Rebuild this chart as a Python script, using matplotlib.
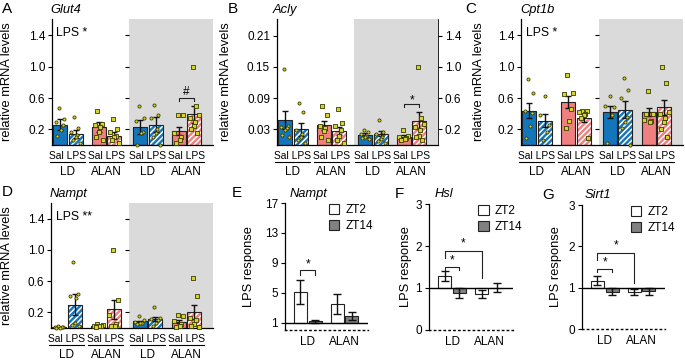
import matplotlib.pyplot as plt
import numpy as np
from matplotlib.patches import Patch
from matplotlib.transforms import blended_transform_factory

plt.rcParams['font.family'] = ['Liberation Sans', 'DejaVu Sans']
plt.rcParams['hatch.linewidth'] = 1.1
plt.rcParams['axes.linewidth'] = 0.9

# bar order in panels A-D: LD Sal, LD LPS, ALAN Sal, ALAN LPS (white half), same again in grey half
treat = ['Sal', 'LPS'] * 4
light = ['LD', 'LD', 'ALAN', 'ALAN'] * 2
groups = ['LD', 'ALAN', 'LD', 'ALAN']

glut4_mean = [0.26, 0.14, 0.23, 0.12, 0.23, 0.26, 0.18, 0.39]
glut4_sem = [0.07, 0.05, 0.07, 0.04, 0.09, 0.10, 0.05, 0.11]
glut4_pts = [[0.47, 0.33, 0.29, 0.26, 0.19, 0.11],
             [0.36, 0.22, 0.17, 0.13, 0.10, 0.06, 0.02],
             [0.44, 0.27, 0.26, 0.23, 0.17, 0.10, 0.07],
             [0.33, 0.21, 0.16, 0.12, 0.10, 0.06, 0.03],
             [0.50, 0.34, 0.31, 0.17, 0.15, 0.00],
             [0.51, 0.38, 0.34, 0.20, 0.15, 0.10, 0.00],
             [0.38, 0.38, 0.15, 0.10, 0.06, 0.03],
             [1.00, 0.50, 0.38, 0.34, 0.30, 0.24, 0.20, 0.15]]

acly_mean = [0.048, 0.030, 0.038, 0.0275, 0.019, 0.022, 0.016, 0.047]
acly_sem = [0.017, 0.012, 0.009, 0.008, 0.004, 0.005, 0.003, 0.016]
acly_pts = [[0.146, 0.037, 0.035, 0.032, 0.029, 0.019, 0.016],
            [0.081, 0.064, 0.028, 0.022, 0.015, 0.009, 0.003],
            [0.074, 0.058, 0.036, 0.032, 0.027, 0.016, 0.010],
            [0.069, 0.042, 0.036, 0.028, 0.018, 0.009, 0.003],
            [0.028, 0.025, 0.022, 0.018, 0.016, 0.013, 0.012],
            [0.048, 0.025, 0.022, 0.016, 0.012, 0.008, 0.004],
            [0.029, 0.018, 0.016, 0.014, 0.012, 0.010],
            [0.150, 0.052, 0.040, 0.035, 0.028, 0.018, 0.016, 0.010]]

cpt1b_mean = [0.44, 0.31, 0.55, 0.35, 0.42, 0.45, 0.42, 0.48]
cpt1b_sem = [0.10, 0.08, 0.075, 0.05, 0.08, 0.11, 0.05, 0.10]
cpt1b_pts = [[0.84, 0.66, 0.44, 0.41, 0.24, 0.085],
             [0.63, 0.38, 0.26, 0.17, 0.06],
             [0.89, 0.67, 0.65, 0.46, 0.31, 0.22],
             [0.44, 0.43, 0.42, 0.40, 0.38, 0.34, 0.09],
             [0.62, 0.50, 0.49, 0.38, 0.03],
             [0.86, 0.70, 0.60, 0.36, 0.29, 0.22, 0.00],
             [0.69, 0.40, 0.32, 0.31, 0.30, 0.40],
             [1.00, 0.79, 0.42, 0.40, 0.34, 0.30, 0.21, 0.10]]

nampt_mean = [0.01, 0.30, 0.03, 0.24, 0.085, 0.115, 0.08, 0.205]
nampt_sem = [0.003, 0.13, 0.008, 0.12, 0.01, 0.025, 0.02, 0.085]
nampt_pts = [[0.02, 0.015, 0.01, 0.008, 0.005, 0.003],
             [0.85, 0.43, 0.41, 0.38, 0.06, 0.04, 0.02],
             [0.05, 0.04, 0.03, 0.03, 0.02, 0.01],
             [1.00, 0.36, 0.17, 0.05, 0.03, 0.02],
             [0.16, 0.10, 0.08, 0.07, 0.06, 0.05],
             [0.27, 0.13, 0.12, 0.10, 0.06, 0.03],
             [0.17, 0.15, 0.09, 0.05, 0.03, 0.01],
             [0.64, 0.41, 0.13, 0.10, 0.05, 0.03, 0.01]]

# panels E-G: LPS response, groups LD / ALAN
resp_groups = ['LD', 'ALAN']
nampt_zt2 = [5.1, 3.5]
nampt_zt2_err = [1.65, 1.3]
nampt_zt14 = [1.2, 1.85]
nampt_zt14_err = [0.2, 0.55]
hsl_zt2 = [1.28, 0.86]
hsl_zt2_err = [0.12, 0.09]
hsl_zt14 = [0.88, 1.01]
hsl_zt14_err = [0.12, 0.11]
sirt1_zt2 = [1.17, 0.90]
sirt1_zt2_err = [0.11, 0.07]
sirt1_zt14 = [0.90, 0.91]
sirt1_zt14_err = [0.08, 0.09]

BLUE = '#1375bb'
PINK = '#f07f7f'
BG = '#dadada'
DOT_FC = '#d4d42c'
DOT_EC = '#3a3a00'
ZT14_COL = '#808080'

W, H = 685, 361
fig = plt.figure(figsize=(W / 100, H / 100), dpi=100)


def add_ax(x0, x1, y0, y1):
    return fig.add_axes([x0 / W, 1 - y1 / H, (x1 - x0) / W, (y1 - y0) / H])


pos = np.array([0, 1, 2.5, 3.5, 5.15, 6.15, 7.65, 8.65])
divider = 4.45
xr = 9.85


def spread(n):
    off = np.linspace(-0.28, 0.28, n)
    return off[np.argsort(np.sin(np.arange(n) * 2.3))]


def mrna_panel(ax, mean, sem, pts, ymax, ticks, fmt, right_labels=False):
    ax.set_xlim(-0.52, xr)
    ax.set_ylim(0, ymax)
    ax.axvspan(divider, xr, color=BG, lw=0, zorder=0)
    for i in range(8):
        col = BLUE if light[i] == 'LD' else PINK
        if treat[i] == 'LPS':
            ax.bar(pos[i], mean[i], 0.9, color=col, edgecolor='white', hatch='//////', lw=0, zorder=2)
        else:
            ax.bar(pos[i], mean[i], 0.9, color=col, lw=0, zorder=2)
        ax.bar(pos[i], mean[i], 0.9, facecolor='none', edgecolor='#222222', lw=0.8, zorder=3)
        ax.errorbar(pos[i], mean[i], yerr=sem[i], color='#111111', capsize=2.5, lw=1, capthick=1, zorder=4)
        p = np.array(pts[i])
        ax.scatter(pos[i] + spread(len(p)), p, s=5, marker='o' if light[i] == 'LD' else 's',
                   fc=DOT_FC, ec=DOT_EC, lw=0.6, zorder=5, clip_on=False)
    ax.set_yticks(ticks)
    ax.set_yticklabels([fmt % t for t in ticks])
    ax.set_xticks([])
    ax.tick_params(axis='y', direction='out', length=3, labelsize=8.5, pad=2)
    for s in ['top', 'right']:
        ax.spines[s].set_visible(False)
    tw = ax.twinx()
    if right_labels:
        tw.set_ylim(0, ymax * 20 / 3)
        tw.set_yticks([0.2, 0.6, 1.0, 1.4])
        tw.tick_params(axis='y', direction='out', length=3, labelsize=8.5, pad=2)
        tw.spines['right'].set_linewidth(0.6)
    else:
        tw.set_ylim(0, ymax)
        tw.set_yticks(ticks)
        tw.spines['right'].set_position(('data', divider))
        tw.spines['right'].set_visible(False)
        tw.tick_params(axis='y', direction='in', length=3, labelright=False)
    for s in ['top', 'left', 'bottom']:
        tw.spines[s].set_visible(False)
    # category labels under the axis
    tr = blended_transform_factory(ax.transData, ax.transAxes)
    for k in range(4):
        a, b = pos[2 * k], pos[2 * k + 1]
        ax.text((a + b) / 2, -0.085, treat[2 * k] + ' ' + treat[2 * k + 1], transform=tr,
                ha='center', va='center', fontsize=7.4)
        ax.plot([a - 0.62, b + 0.62], [-0.135, -0.135], transform=tr, color='black', lw=0.8, clip_on=False)
        ax.text((a + b) / 2, -0.215, groups[k], transform=tr, ha='center', va='center', fontsize=8.5)
    ax.set_ylabel('relative mRNA levels', fontsize=9.3)


def bracket(ax, x0, x1, y, l0, l1, label, dy):
    ax.plot([x0, x0, x1, x1], [l0, y, y, l1], color='#222222', lw=0.8, zorder=6)
    ax.text((x0 + x1) / 2, y + dy, label, ha='center', va='center', fontsize=8.5)


resp_x = np.array([0, 2.5])


def resp_panel(ax, zt2, zt2_err, zt14, zt14_err, ymax, ticks, leg_x):
    ax.set_xlim(-1.05, 4.6)
    ax.set_ylim(0, ymax)
    zt2 = np.array(zt2)
    zt14 = np.array(zt14)
    ax.bar(resp_x, zt2 - 1, 0.88, bottom=1, color='white', edgecolor='#222222', lw=0.8, zorder=2)
    ax.bar(resp_x + 1, zt14 - 1, 0.88, bottom=1, color=ZT14_COL, edgecolor='#222222', lw=0.8, zorder=2)
    ax.errorbar(resp_x, zt2, yerr=zt2_err, fmt='none', color='#111111', capsize=3, lw=1, capthick=1, zorder=3)
    ax.errorbar(resp_x + 1, zt14, yerr=zt14_err, fmt='none', color='#111111', capsize=3, lw=1, capthick=1, zorder=3)
    ax.axhline(1, color='black', lw=1, zorder=4)
    ax.set_yticks(ticks)
    ax.set_xticks([])
    ax.tick_params(axis='y', direction='out', length=3, labelsize=8.5, pad=2)
    for s in ['top', 'right']:
        ax.spines[s].set_visible(False)
    ax.spines['bottom'].set_linestyle((0, (1, 2.5)))
    ax.spines['bottom'].set_linewidth(1.0)
    tr = blended_transform_factory(ax.transData, ax.transAxes)
    for k in range(2):
        ax.text(resp_x[k] + 0.5, -0.095, resp_groups[k], transform=tr, ha='center', va='center', fontsize=8.5)
    ax.set_ylabel('LPS response', fontsize=9.3)
    handles = [Patch(fc='white', ec='#222222', lw=0.8), Patch(fc=ZT14_COL, ec='#222222', lw=0.8)]
    ax.legend(handles, ['ZT2', 'ZT14'], loc='upper left', bbox_to_anchor=(leg_x, 1.03), frameon=False,
              fontsize=8.5, handlelength=0.9, handleheight=0.9, handletextpad=0.5, labelspacing=0.35,
              borderaxespad=0)


# ---- A: Glut4
axA = add_ax(52, 213, 19, 145)
mrna_panel(axA, glut4_mean, glut4_sem, glut4_pts, 1.61, [0.2, 0.6, 1.0, 1.4], '%.1f')
axA.text(0.025, 0.89, 'LPS *', transform=axA.transAxes, fontsize=8.8, va='center')
bracket(axA, pos[6], pos[7], 0.6, 0.56, 0.56, '#', 0.08)
axA.yaxis.set_label_coords(-0.242, 0.5)

# ---- B: Acly
axB = add_ax(277, 438, 19, 145)
mrna_panel(axB, acly_mean, acly_sem, acly_pts, 0.242, [0.03, 0.09, 0.15, 0.21], '%.2f', right_labels=True)
bracket(axB, pos[6], pos[7], 0.078, 0.0737, 0.0737, '*', 0.0085)
axB.yaxis.set_label_coords(-0.28, 0.5)

# ---- C: Cpt1b
axC = add_ax(521, 683, 19, 145)
mrna_panel(axC, cpt1b_mean, cpt1b_sem, cpt1b_pts, 1.61, [0.2, 0.6, 1.0, 1.4], '%.1f')
axC.text(0.03, 0.89, 'LPS *', transform=axC.transAxes, fontsize=8.8, va='center')
axC.yaxis.set_label_coords(-0.222, 0.5)

# ---- D: Nampt
axD = add_ax(51, 213, 203, 328)
mrna_panel(axD, nampt_mean, nampt_sem, nampt_pts, 1.6, [0.2, 0.6, 1.0, 1.4], '%.1f')
axD.text(0.03, 0.89, 'LPS **', transform=axD.transAxes, fontsize=8.8, va='center')
axD.yaxis.set_label_coords(-0.235, 0.5)

# ---- E: Nampt response
axE = add_ax(285, 368, 203, 330)
resp_panel(axE, nampt_zt2, nampt_zt2_err, nampt_zt14, nampt_zt14_err, 17, [1, 5, 9, 13, 17], 0.47)
bracket(axE, 0, 1, 8.05, 7.4, 7.4, '*', 0.75)
axE.yaxis.set_label_coords(-0.36, 0.5)

# ---- F: Hsl response
axF = add_ax(429, 513, 204, 330)
resp_panel(axF, hsl_zt2, hsl_zt2_err, hsl_zt14, hsl_zt14_err, 3, [0, 1, 2, 3], 0.53)
bracket(axF, 0, 1, 1.5, 1.42, 1.42, '*', 0.16)
bracket(axF, 0, 2.5, 1.89, 1.71, 1.24, '*', 0.18)
axF.yaxis.set_label_coords(-0.2, 0.5)

# ---- G: Sirt1 response
axG = add_ax(582, 665, 205, 329)
resp_panel(axG, sirt1_zt2, sirt1_zt2_err, sirt1_zt14, sirt1_zt14_err, 3, [0, 1, 2, 3], 0.53)
bracket(axG, 0, 1, 1.45, 1.38, 1.38, '*', 0.16)
bracket(axG, 0, 2.5, 1.83, 1.67, 1.12, '*', 0.18)
axG.yaxis.set_label_coords(-0.24, 0.5)

# panel letters and gene names (pixel positions)
letters = [('A', 2, 9), ('B', 228, 9), ('C', 465, 9), ('D', 2, 192), ('E', 232, 193), ('F', 395, 194), ('G', 542, 195)]
for t, x, y in letters:
    fig.text(x / W, 1 - y / H, t, fontsize=11, va='center', ha='left')
genes = [('Glut4', 50, 10), ('Acly', 273, 10), ('Cpt1b', 520, 10), ('Nampt', 50, 194),
         ('Nampt', 290, 194), ('Hsl', 435, 194), ('Sirt1', 585, 195)]
for t, x, y in genes:
    fig.text(x / W, 1 - y / H, t, fontsize=9.3, style='italic', va='center', ha='left')

fig.savefig('out.png', dpi=100)
